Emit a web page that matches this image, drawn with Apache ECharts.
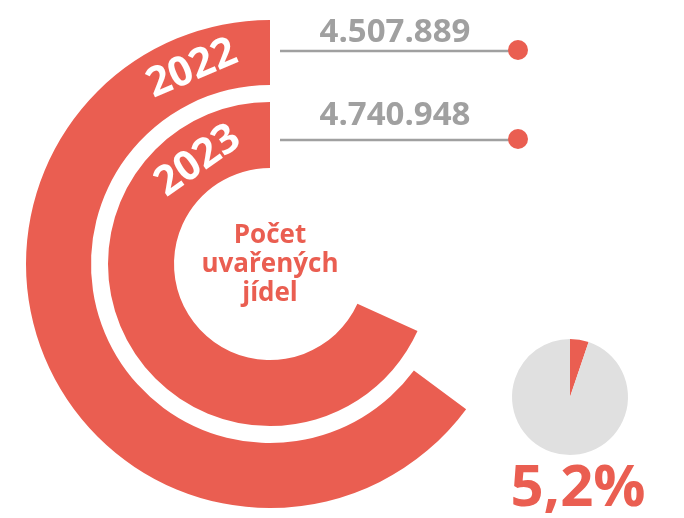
<!DOCTYPE html>
<html>
<head>
<meta charset="utf-8">
<script src="https://cdn.jsdelivr.net/npm/echarts@6/dist/echarts.min.js"></script>
<style>
    html, body { margin: 0; padding: 0; background: #fff; }
    #chart { width: 684px; height: 518px; }
</style>
</head>
<body>
<div id="chart"></div>
<script>
// data
var years = ['2022', '2023']
var meals = [4507889, 4740948]
var growthPct = 5.2
var centerTitle = ['Počet', 'uvařených', 'jídel']

var red = '#ea5e51'
var grey = '#a0a0a0'

function fmt(n) {
    return String(n).replace(/\B(?=(\d{3})+(?!\d))/g, '.')
}

var chart = echarts.init(document.getElementById('chart'))

let option = {
    animation: false,
    polar: [
        { center: [270, 264], radius: [179, 244] }, // 2022 outer ring
        { center: [270, 264], radius: [96, 162] }   // 2023 inner ring
    ],
    angleAxis: [0, 1].map(function(i) {
        return {
            polarIndex: i,
            type: 'value',
            min: 0,
            max: 6950000,
            startAngle: 90,
            clockwise: false,
            show: false
        }
    }),
    radiusAxis: [0, 1].map(function(i) {
        return {
            polarIndex: i,
            type: 'category',
            data: [years[i]],
            show: false
        }
    }),
    series: [
        {
            type: 'bar',
            coordinateSystem: 'polar',
            polarIndex: 0,
            barCategoryGap: '0%',
            data: [meals[0]],
            itemStyle: { color: red }
        },
        {
            type: 'bar',
            coordinateSystem: 'polar',
            polarIndex: 1,
            barCategoryGap: '0%',
            data: [meals[1]],
            itemStyle: { color: red }
        },
        {
            type: 'pie',
            center: [570, 397],
            radius: [0, 58],
            startAngle: 90,
            clockwise: true,
            label: { show: false },
            silent: true,
            data: [
                { value: growthPct, itemStyle: { color: red } },
                { value: 100 - growthPct, itemStyle: { color: '#e0e0e0' } }
            ]
        }
    ],
    graphic: [
        // year labels along the arcs
        {
            type: 'text', x: 192, y: 69, z: 100, rotation: 23 * Math.PI / 180,
            style: { text: years[0], font: 'bold 41px "Open Sans"', fill: '#fff', textAlign: 'center', textVerticalAlign: 'middle' }
        },
        {
            type: 'text', x: 198, y: 161, z: 100, rotation: 35 * Math.PI / 180,
            style: { text: years[1], font: 'bold 41px "Open Sans"', fill: '#fff', textAlign: 'center', textVerticalAlign: 'middle' }
        },
        // value callouts
        {
            type: 'text', x: 395, y: 49,
            style: { text: fmt(meals[0]), font: 'bold 33px "Open Sans"', fill: grey, textAlign: 'center', textVerticalAlign: 'bottom' }
        },
        {
            type: 'line', shape: { x1: 280, y1: 51, x2: 516, y2: 51 },
            style: { stroke: grey, lineWidth: 2.5 }
        },
        { type: 'circle', shape: { cx: 518, cy: 50, r: 10 }, style: { fill: red } },
        {
            type: 'text', x: 395, y: 132,
            style: { text: fmt(meals[1]), font: 'bold 33px "Open Sans"', fill: grey, textAlign: 'center', textVerticalAlign: 'bottom' }
        },
        {
            type: 'line', shape: { x1: 280, y1: 140, x2: 516, y2: 140 },
            style: { stroke: grey, lineWidth: 2.5 }
        },
        { type: 'circle', shape: { cx: 518, cy: 139, r: 10 }, style: { fill: red } },
        // center caption
        {
            type: 'text', x: 270, y: 221,
            style: { text: centerTitle.join('\n'), font: 'bold 26px "Open Sans"', lineHeight: 29, fill: red, textAlign: 'center', textVerticalAlign: 'top' }
        },
        // growth
        {
            type: 'text', x: 578, y: 518,
            style: { text: String(growthPct).replace('.', ',') + '%', font: 'bold 58px "Open Sans"', fill: red, textAlign: 'center', textVerticalAlign: 'bottom' }
        }
    ]
}

chart.setOption(option)
</script>
</body>
</html>
